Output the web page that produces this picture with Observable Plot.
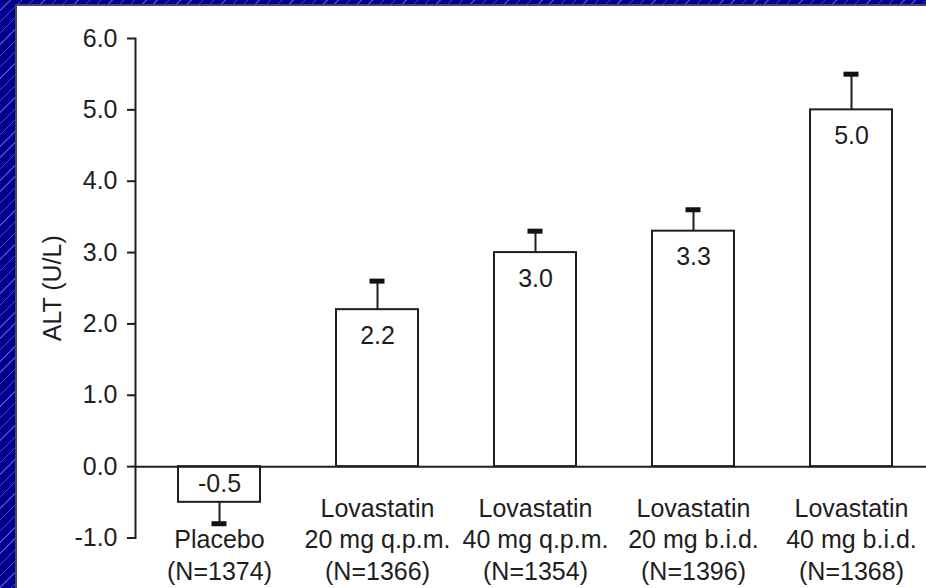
<!DOCTYPE html>
<html><head><meta charset="utf-8">
<script src="https://cdn.jsdelivr.net/npm/d3@7"></script>
<script src="https://cdn.jsdelivr.net/npm/@observablehq/plot@0.6"></script>
<style>
html,body{margin:0;padding:0;width:100%;height:100%;overflow:hidden;background:#fff;}
#border{position:absolute;left:0;top:0;width:1000px;height:700px;background:repeating-linear-gradient(135deg,#00008c 0 7px,#4848c8 7px 8px);}
#panel{position:absolute;left:15px;top:4px;width:1000px;height:700px;box-sizing:border-box;border-left:2px solid #4a4a4a;border-top:2px solid #4a4a4a;background:#fff;overflow:hidden;}
#panel svg{max-width:none !important;display:block;}
</style></head><body><div id="border"></div><div id="panel"></div>
<script>
const categories = ["Placebo", "Lovastatin 20 mg q.p.m.", "Lovastatin 40 mg q.p.m.", "Lovastatin 20 mg b.i.d.", "Lovastatin 40 mg b.i.d."];
const axisLabels = ["Placebo\n(N=1374)", "Lovastatin\n20 mg q.p.m.\n(N=1366)", "Lovastatin\n40 mg q.p.m.\n(N=1354)", "Lovastatin\n20 mg b.i.d.\n(N=1396)", "Lovastatin\n40 mg b.i.d.\n(N=1368)"];
const values = [-0.5, 2.2, 3.0, 3.3, 5.0];
const errors = [0.3, 0.4, 0.3, 0.3, 0.5];
const yTicks = [-1, 0, 1, 2, 3, 4, 5, 6];
const yLabel = "ALT (U/L)";

const data = categories.map((c, i) => ({c, v: values[i], e: errors[i], end: values[i] + Math.sign(values[i]) * errors[i]}));
const ink = "#1e1e1e";
const chart = Plot.plot({
  width: 918, height: 582,
  marginLeft: 118, marginRight: 0, marginTop: 32, marginBottom: 50.5,
  style: {fontFamily: "Arial, 'Liberation Sans', sans-serif", fontSize: "25px", color: ink, background: "transparent", overflow: "visible", maxWidth: "none"},
  x: {domain: categories, paddingInner: 0.484, paddingOuter: 0.259},
  y: {domain: [-1, 6]},
  marks: [
    Plot.barY(data, {x: "c", y1: 0, y2: "v", fill: "white", stroke: ink, strokeWidth: 2}),
    Plot.ruleX(data, {x: "c", y1: "v", y2: "end", stroke: ink, strokeWidth: 2}),
    Plot.tickY(data, {x: "c", y: "end", stroke: "#111", strokeWidth: 5, insetLeft: 33.5, insetRight: 33.5}),
    Plot.ruleY([0], {stroke: ink, strokeWidth: 2}),
    Plot.frame({anchor: "left", stroke: ink, strokeWidth: 2}),
    Plot.axisY({ticks: yTicks, tickFormat: d => d.toFixed(1), tickSize: 8, tickPadding: 10, strokeWidth: 2, fontSize: 25,
      label: yLabel, labelAnchor: "center", labelArrow: "none", labelOffset: 92}),
    Plot.axisX({tickSize: 0, tickPadding: 0, tickFormat: d => axisLabels[categories.indexOf(d)], lineAnchor: "bottom", lineHeight: 1.25, dy: 41.5, fontSize: 25, label: null}),
    Plot.text(data.filter(d => d.v > 0), {x: "c", y: "v", text: d => d.v.toFixed(1), dy: 26, fontSize: 25, fill: ink}),
    Plot.text(data.filter(d => d.v < 0), {x: "c", y: d => d.v / 2, text: d => d.v.toFixed(1), fontSize: 25, fill: ink})
  ]
});
document.getElementById("panel").appendChild(chart);
</script></body></html>
